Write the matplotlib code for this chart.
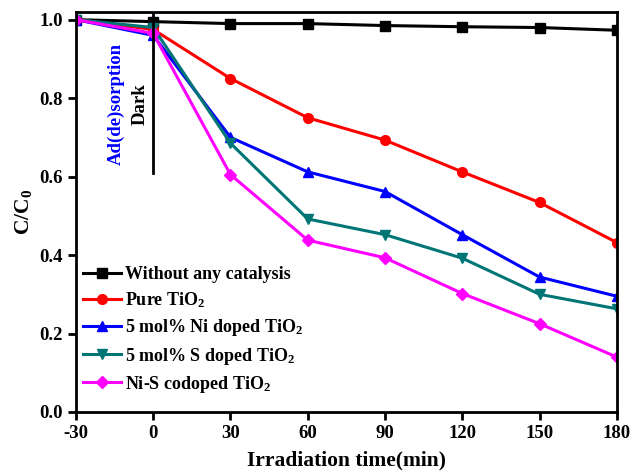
import matplotlib
matplotlib.use('Agg')
import matplotlib.pyplot as plt

plt.rcParams['font.family'] = 'Liberation Serif'
plt.rcParams['font.weight'] = 'bold'
plt.rcParams['mathtext.fontset'] = 'custom'
plt.rcParams['mathtext.rm'] = 'Liberation Serif:bold'
plt.rcParams['mathtext.default'] = 'rm'
plt.rcParams['axes.unicode_minus'] = False

# irradiation time (min)
time = [-30, 0, 30, 60, 90, 120, 150, 180]

# C/C0 for each sample
no_catalyst = [1.0, 0.995, 0.99, 0.99, 0.985, 0.982, 0.98, 0.973]
pure_tio2 = [1.0, 0.975, 0.85, 0.75, 0.693, 0.612, 0.534, 0.432]
ni_doped = [1.0, 0.96, 0.70, 0.612, 0.562, 0.452, 0.344, 0.295]
s_doped = [1.0, 0.98, 0.685, 0.492, 0.452, 0.392, 0.30, 0.263]
nis_codoped = [1.0, 0.965, 0.605, 0.438, 0.393, 0.302, 0.225, 0.14]

labels = ['Without any catalysis', 'Pure TiO$_2$', '5 mol% Ni doped TiO$_2$',
          '5 mol% S doped TiO$_2$', 'Ni-S codoped TiO$_2$']
colors = ['black', 'red', 'blue', '#007575', 'magenta']
markers = ['s', 'o', '^', 'v', 'D']
series = [no_catalyst, pure_tio2, ni_doped, s_doped, nis_codoped]

fig = plt.figure(figsize=(6.3, 4.73), dpi=100)
ax = fig.add_axes([0.1206, 0.129, 0.8584, 0.846])

for y, lab, c, m in zip(series, labels, colors, markers):
    ms = 6 if m == 'D' else 7
    ax.plot(time, y, color=c, marker=m, markersize=ms, linewidth=2.2, label=lab)

# dark adsorption marker line
ax.plot([0, 0], [0.61, 1.02], color='black', linewidth=2)
ax.text(-5, 0.785, 'Dark', rotation=90, ha='center', va='center', fontsize=13.5, fontweight='bold')
ax.text(-14.5, 0.785, 'Ad(de)sorption', rotation=90, ha='center', va='center',
        fontsize=13.5, fontweight='bold', color='blue')

ax.set_xlim(-30, 180)
ax.set_ylim(0, 1.02)
ax.set_xticks(time)
ax.set_yticks([0.0, 0.2, 0.4, 0.6, 0.8, 1.0])
ax.set_yticklabels(['0.0', '0.2', '0.4', '0.6', '0.8', '1.0'])
ax.tick_params(direction='out', length=6, width=2, labelsize=13.5)
for s in ax.spines.values():
    s.set_linewidth(2)

ax.set_xlabel('Irradiation time(min)', fontsize=15.5, fontweight='bold', labelpad=6)
ax.set_ylabel('C/C$_0$', fontsize=15.5, fontweight='bold')

ax.legend(loc='lower left', bbox_to_anchor=(0, 0.025), frameon=False, fontsize=13,
          handlelength=2.1, handletextpad=0.2, labelspacing=0.4, borderpad=0.3,
          borderaxespad=0.1)

fig.savefig('out.png', dpi=100)
